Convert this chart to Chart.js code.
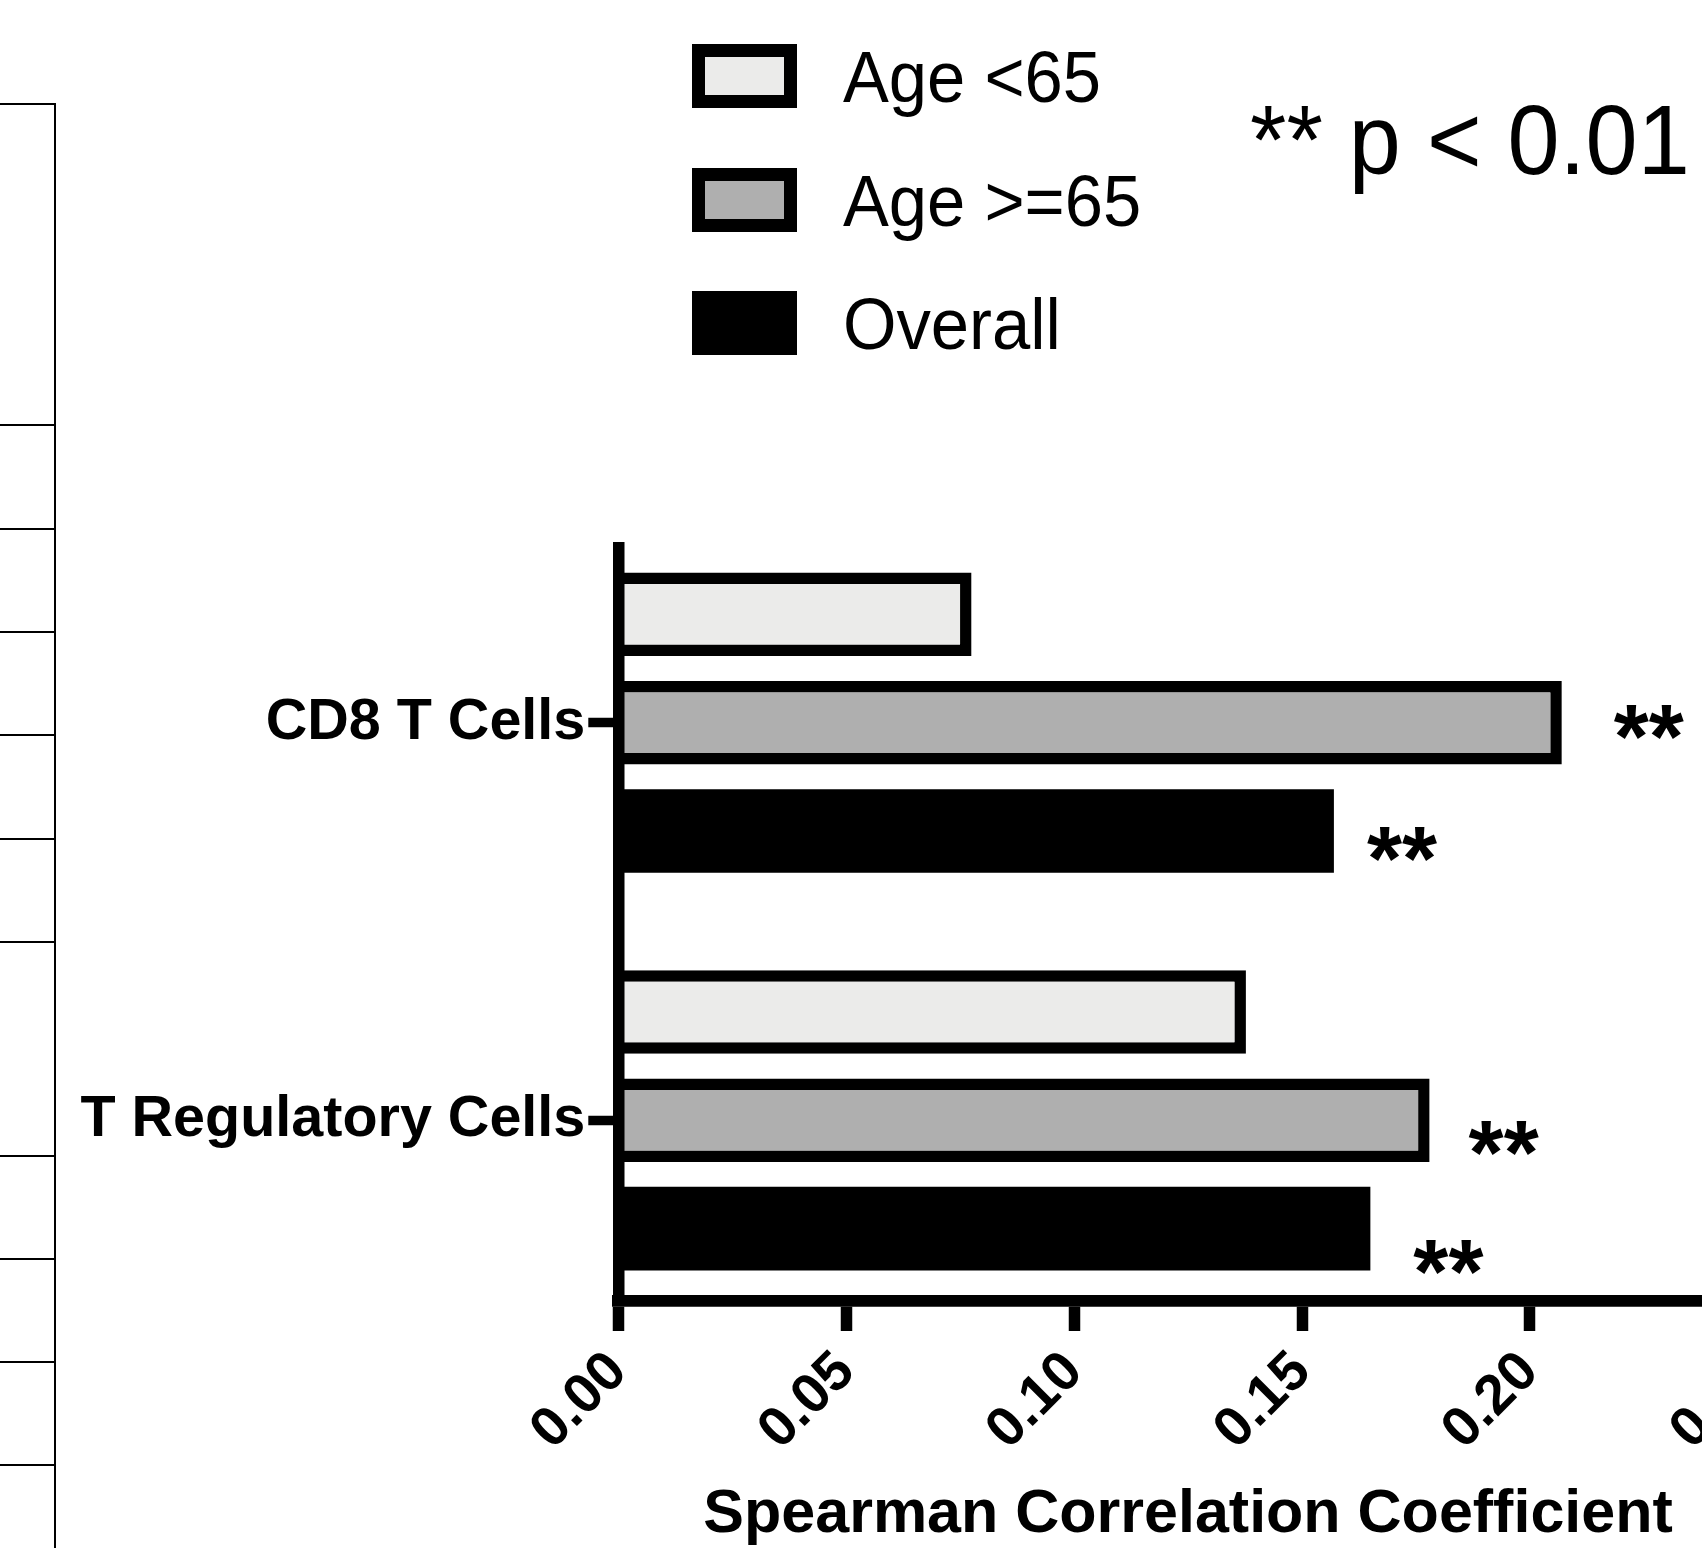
<!DOCTYPE html>
<html>
<head>
<meta charset="utf-8">
<script src="https://cdn.jsdelivr.net/npm/chart.js@4.4.1/dist/chart.umd.min.js"></script>
<style>
  html, body { margin: 0; padding: 0; background: #fff; width: 1702px; height: 1548px; overflow: hidden; }
  #wrap { position: absolute; left: 0; top: 0; width: 1900px; height: 1600px; }
  .fr { position: absolute; background: #000; }
</style>
</head>
<body>
<div id="frame"></div>
<div id="wrap"><canvas id="c" width="1900" height="1600"></canvas></div>
<script>
// ---------------- data ----------------
const categories = ['CD8 T Cells', 'T Regulatory Cells'];
const seriesNames = ['Age <65', 'Age >=65', 'Overall'];
const ageUnder65 = [0.0775, 0.1377];
const age65Plus  = [0.207, 0.178];
const overall    = [0.157, 0.165];
const xTickValues = [0.00, 0.05, 0.10, 0.15, 0.20, 0.25];
const significant = [[false, false], [true, true], [true, true]]; // ** marks, per series per category
const pNote = '** p < 0.01';
const xTitle = 'Spearman Correlation Coefficient';

// ---------------- styles ----------------
const FONT = "'Liberation Sans', Arial, Helvetica, sans-serif";
const fills = ['#EBEBEA', '#AFAFAF', '#000000'];
const borders = [11.5, 11.5, 0];
const starShift = [null, [[55, -7], [42, 11]], [[36, 6], [46, 22]]]; // [gap, dy] per series/category

// partial frame of neighbouring panel (decoration)
(function () {
  const f = document.getElementById('frame');
  const add = (l, t, w, h) => { const d = document.createElement('div'); d.className = 'fr';
    d.style.left = l + 'px'; d.style.top = t + 'px'; d.style.width = w + 'px'; d.style.height = h + 'px'; f.appendChild(d); };
  add(54, 103, 2, 1445);
  [103, 424, 528, 631, 734, 838, 941, 1155, 1258, 1361, 1464].forEach(y => add(0, y, 56, 2));
})();

const seriesValues = [ageUnder65, age65Plus, overall];
const datasets = seriesNames.map((name, s) => ({
  label: name,
  data: categories.map((c, i) => ({ y: i, x: seriesValues[s][i] })),
  backgroundColor: fills[s],
  borderColor: '#000000',
  borderWidth: borders[s],
  borderSkipped: 'start',
  categoryPercentage: 0.8174,
  barPercentage: 0.771
}));

const decorPlugin = {
  id: 'decor',
  afterDatasetsDraw(chart) {
    const ctx = chart.ctx;
    ctx.save();
    ctx.fillStyle = '#000';
    ctx.font = 'bold 90px ' + FONT;
    ctx.textAlign = 'left';
    ctx.textBaseline = 'alphabetic';
    significant.forEach((row, s) => {
      const meta = chart.getDatasetMeta(s);
      row.forEach((sig, i) => {
        if (!sig) return;
        const bar = meta.data[i];
        const [gap, dy] = starShift[s][i];
        ctx.fillText('**', bar.x + gap - 3, bar.y + dy + 0.585 * 90);
      });
    });
    ctx.restore();
  },
  afterDraw(chart) {
    const ctx = chart.ctx;
    ctx.save();
    // legend
    const L = { x: 692, tops: [44, 168, 291], w: 105, h: 64, b: 13, tx: 843, size: 72, sx: 0.955 };
    chart.data.datasets.forEach((ds, i) => {
      const y0 = L.tops[i];
      ctx.fillStyle = ds.borderColor;
      ctx.fillRect(L.x, y0, L.w, L.h);
      ctx.fillStyle = ds.backgroundColor;
      ctx.fillRect(L.x + L.b, y0 + L.b, L.w - 2 * L.b, L.h - 2 * L.b);
      ctx.save();
      ctx.fillStyle = '#000';
      ctx.font = L.size + 'px ' + FONT;
      ctx.textBaseline = 'alphabetic';
      ctx.translate(L.tx, y0 + L.h / 2 + 0.358 * L.size);
      ctx.scale(L.sx, 1);
      ctx.fillText(ds.label, 0, 0);
      ctx.restore();
    });
    // p-value note
    ctx.fillStyle = '#000';
    ctx.font = '98px ' + FONT;
    ctx.textBaseline = 'alphabetic';
    ctx.translate(1250, 174);
    ctx.scale(0.955, 1);
    ctx.fillText(pNote, 0, 0);
    ctx.restore();
  }
};

Chart.defaults.font.family = FONT;
Chart.defaults.color = '#000';

new Chart(document.getElementById('c'), {
  type: 'bar',
  data: { datasets },
  options: {
    indexAxis: 'y',
    responsive: false,
    animation: false,
    devicePixelRatio: 1,
    layout: { padding: { top: 547.5, left: 0, right: 142.2, bottom: 48 } },
    plugins: { legend: { display: false }, tooltip: { enabled: false } },
    scales: {
      y: {
        type: 'linear',
        reverse: true,
        offset: false,
        min: -0.4406,
        max: 1.4545,
        afterBuildTicks: (s) => { s.ticks = categories.map((c, i) => ({ value: i })); },
        afterFit: (s) => { s.width = 618.3; },
        ticks: {
          autoSkip: false,
          padding: 3,
          color: '#000',
          font: { size: 57.5, weight: 'bold' },
          callback: (v) => categories[v]
        },
        grid: { display: true, offset: false, drawOnChartArea: false, drawTicks: true, tickLength: 30, tickWidth: 9.5, tickColor: '#000' },
        border: { display: true, width: 11.5, color: '#000', z: 1 }
      },
      x: {
        type: 'linear',
        min: 0,
        max: 0.25,
        offset: false,
        afterBuildTicks: (s) => { s.ticks = xTickValues.map(v => ({ value: v })); },
        afterFit: (s) => { s.height = 251; },
        ticks: {
          autoSkip: false,
          minRotation: 45,
          maxRotation: 45,
          padding: 8,
          color: '#000',
          font: { size: 56, weight: 'bold' },
          callback: (v) => Number(v).toFixed(2)
        },
        grid: { display: true, offset: false, drawOnChartArea: false, drawTicks: true, tickLength: 30, tickWidth: 11.5, tickColor: '#000' },
        border: { display: true, width: 11.7, color: '#000', z: 1 },
        title: { display: true, text: xTitle, color: '#000', font: { size: 61, weight: 'bold' }, padding: { top: 0, bottom: 0 } }
      }
    }
  },
  plugins: [decorPlugin]
});
</script>
</body>
</html>
